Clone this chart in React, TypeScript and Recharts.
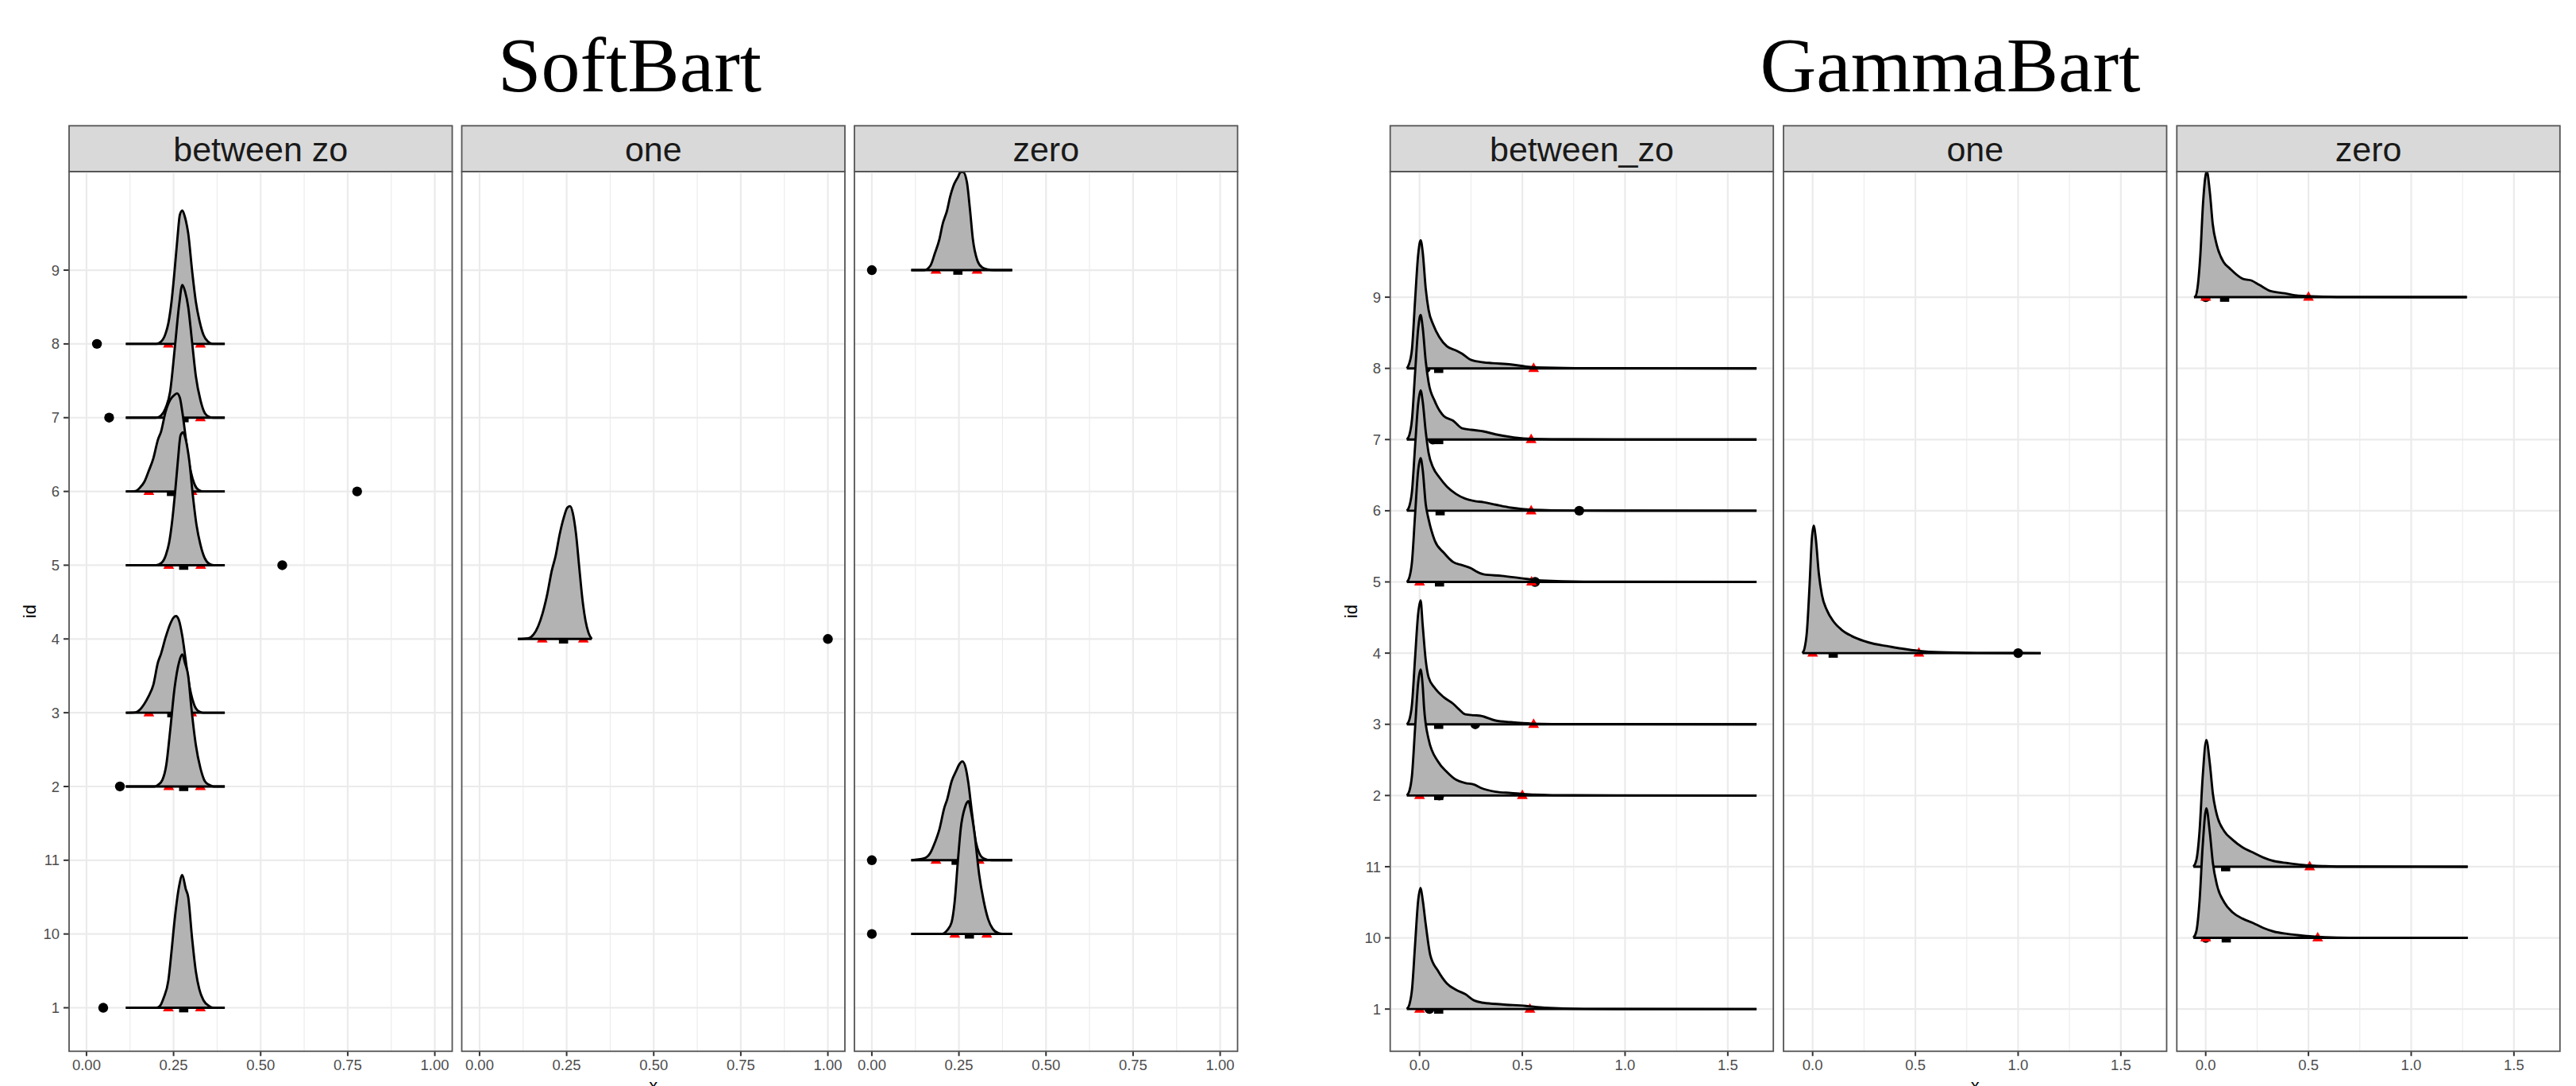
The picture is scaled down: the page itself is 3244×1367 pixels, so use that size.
import React from "react";
import { ComposedChart, Area, Scatter, XAxis, YAxis, CartesianGrid } from "recharts";

// y axis levels, bottom to top, as listed on the axis
const idLevels = ["1", "10", "11", "2", "3", "4", "5", "6", "7", "8", "9"];

const softTicks = [0, 0.25, 0.5, 0.75, 1];
const softMinor = [0.125, 0.375, 0.625, 0.875];
const gammaTicks = [0, 0.5, 1, 1.5];
const gammaMinor = [0.25, 0.75, 1.25];

const softFacets = ["between zo", "one", "zero"];
const gammaFacets = ["between_zo", "one", "zero"];

// ids in each facet, top ridge first
const betweenIds = ["8", "7", "6", "5", "3", "2", "1"];
const oneIds = ["4"];
const zeroIds = ["9", "11", "10"];

// true values (black dots)
const truthBetween = [0.03, 0.065, 0.777, 0.562, 0.271, 0.096, 0.048];
const truthOne = [1.0];
const truthZero = [0, 0, 0];

// SoftBart summaries: lower / upper (red), mean (black square)
const softLoBetween = [0.235, 0.235, 0.179, 0.236, 0.179, 0.236, 0.235];
const softMeanBetween = [0.279, 0.28, 0.244, 0.279, 0.245, 0.279, 0.279];
const softHiBetween = [0.327, 0.327, 0.303, 0.328, 0.302, 0.327, 0.327];
const softLoOne = [0.18];
const softMeanOne = [0.241];
const softHiOne = [0.298];
const softLoZero = [0.184, 0.184, 0.238];
const softMeanZero = [0.247, 0.242, 0.28];
const softHiZero = [0.302, 0.308, 0.33];

// GammaBart summaries
const gammaLoBetween = [0, 0, 0, 0, 0, 0, 0];
const gammaMeanBetween = [0.093, 0.093, 0.1, 0.097, 0.093, 0.093, 0.093];
const gammaHiBetween = [0.555, 0.543, 0.543, 0.545, 0.555, 0.5, 0.537];
const gammaLoOne = [0];
const gammaMeanOne = [0.1];
const gammaHiOne = [0.517];
const gammaLoZero = [0, 0, 0];
const gammaMeanZero = [0.092, 0.097, 0.1];
const gammaHiZero = [0.5, 0.506, 0.545];

// ridge outlines: [x, height in id units]
const soft8 = [[0.113,0],[0.2,0],[0.214,0.03],[0.227,0.14],[0.235,0.28],[0.244,0.57],[0.253,1.0],[0.261,1.43],[0.268,1.75],[0.275,1.81],[0.282,1.73],[0.288,1.61],[0.292,1.5],[0.303,1.0],[0.314,0.57],[0.324,0.32],[0.336,0.12],[0.349,0.03],[0.362,0],[0.397,0]];
const soft7 = [[0.113,0],[0.2,0],[0.214,0.03],[0.227,0.13],[0.24,0.35],[0.253,0.92],[0.266,1.53],[0.275,1.8],[0.283,1.71],[0.292,1.5],[0.303,1.03],[0.314,0.56],[0.327,0.24],[0.34,0.06],[0.353,0.01],[0.365,0],[0.397,0]];
const soft6 = [[0.113,0],[0.14,0.005],[0.153,0.05],[0.166,0.13],[0.178,0.27],[0.192,0.45],[0.205,0.7],[0.214,0.81],[0.227,1.08],[0.24,1.24],[0.253,1.31],[0.26,1.33],[0.268,1.27],[0.275,1.08],[0.284,0.76],[0.292,0.46],[0.3,0.26],[0.309,0.11],[0.322,0.02],[0.335,0],[0.397,0]];
const soft5 = [[0.113,0],[0.2,0],[0.215,0.03],[0.228,0.14],[0.237,0.3],[0.246,0.6],[0.255,1.02],[0.263,1.45],[0.27,1.76],[0.277,1.8],[0.284,1.72],[0.29,1.58],[0.295,1.42],[0.305,0.96],[0.316,0.54],[0.327,0.28],[0.339,0.1],[0.352,0.02],[0.365,0],[0.397,0]];
const soft3 = [[0.113,0],[0.14,0.005],[0.155,0.05],[0.166,0.12],[0.178,0.22],[0.192,0.38],[0.205,0.68],[0.214,0.8],[0.227,1.02],[0.24,1.2],[0.25,1.29],[0.257,1.31],[0.265,1.26],[0.275,1.04],[0.284,0.74],[0.292,0.46],[0.3,0.26],[0.309,0.11],[0.322,0.02],[0.335,0],[0.397,0]];
const soft2 = [[0.113,0],[0.195,0],[0.205,0.02],[0.218,0.09],[0.229,0.29],[0.24,0.75],[0.253,1.34],[0.266,1.69],[0.275,1.79],[0.283,1.67],[0.292,1.5],[0.301,1.07],[0.314,0.56],[0.327,0.25],[0.34,0.07],[0.353,0.02],[0.365,0],[0.397,0]];
const soft1 = [[0.113,0],[0.2,0],[0.21,0.02],[0.222,0.14],[0.235,0.37],[0.244,0.76],[0.253,1.19],[0.266,1.65],[0.275,1.8],[0.285,1.61],[0.292,1.5],[0.303,0.95],[0.314,0.49],[0.324,0.25],[0.336,0.1],[0.353,0.02],[0.365,0],[0.397,0]];
const softOne4 = [[0.11,0],[0.14,0.01],[0.155,0.06],[0.168,0.17],[0.181,0.35],[0.194,0.6],[0.207,0.92],[0.218,1.12],[0.23,1.42],[0.242,1.65],[0.252,1.78],[0.26,1.8],[0.268,1.7],[0.277,1.42],[0.286,0.98],[0.295,0.55],[0.304,0.25],[0.313,0.08],[0.322,0]];
const softZero9 = [[0.113,0],[0.15,0],[0.168,0.06],[0.181,0.23],[0.194,0.42],[0.203,0.62],[0.216,0.81],[0.225,1.0],[0.234,1.14],[0.247,1.26],[0.255,1.33],[0.262,1.33],[0.273,1.19],[0.282,0.81],[0.29,0.42],[0.303,0.13],[0.316,0.04],[0.333,0.01],[0.35,0],[0.403,0]];
const softZero11 = [[0.113,0],[0.15,0.025],[0.168,0.1],[0.181,0.24],[0.194,0.42],[0.208,0.71],[0.216,0.82],[0.229,1.07],[0.242,1.21],[0.251,1.3],[0.26,1.34],[0.269,1.26],[0.277,1.05],[0.286,0.7],[0.299,0.24],[0.308,0.1],[0.321,0.025],[0.343,0],[0.403,0]];
const softZero10 = [[0.113,0],[0.2,0],[0.216,0.05],[0.229,0.16],[0.238,0.45],[0.247,0.99],[0.255,1.42],[0.269,1.74],[0.277,1.8],[0.286,1.63],[0.295,1.35],[0.308,0.81],[0.321,0.45],[0.334,0.2],[0.347,0.07],[0.364,0.01],[0.38,0],[0.403,0]];

const gamma8 = [[-0.062,0],[-0.052,0.055],[-0.037,0.27],[-0.022,0.95],[-0.007,1.59],[0.005,1.8],[0.015,1.64],[0.03,1.12],[0.044,0.82],[0.067,0.61],[0.096,0.44],[0.133,0.31],[0.178,0.25],[0.207,0.205],[0.244,0.128],[0.296,0.09],[0.355,0.073],[0.444,0.055],[0.518,0.026],[0.607,0.01],[0.814,0.002],[1.64,0]];
const gamma7 = [[-0.062,0],[-0.05,0.06],[-0.037,0.28],[-0.022,0.93],[-0.007,1.55],[0.005,1.75],[0.015,1.58],[0.03,1.1],[0.044,0.8],[0.074,0.54],[0.118,0.33],[0.163,0.265],[0.207,0.158],[0.252,0.137],[0.311,0.115],[0.37,0.073],[0.459,0.03],[0.547,0.01],[0.75,0.003],[1.64,0]];
const gamma6 = [[-0.062,0],[-0.05,0.06],[-0.037,0.27],[-0.022,0.9],[-0.007,1.5],[0.005,1.69],[0.015,1.54],[0.03,1.11],[0.044,0.81],[0.067,0.6],[0.096,0.47],[0.133,0.34],[0.178,0.235],[0.222,0.17],[0.266,0.137],[0.311,0.12],[0.37,0.085],[0.444,0.043],[0.547,0.013],[0.75,0.003],[1.64,0]];
const gamma5 = [[-0.062,0],[-0.05,0.06],[-0.037,0.28],[-0.022,0.94],[-0.007,1.56],[0.005,1.74],[0.015,1.58],[0.03,1.09],[0.044,0.88],[0.074,0.58],[0.118,0.41],[0.163,0.28],[0.207,0.235],[0.252,0.19],[0.274,0.15],[0.311,0.107],[0.4,0.085],[0.488,0.055],[0.592,0.02],[0.8,0.003],[1.64,0]];
const gamma3 = [[-0.062,0],[-0.05,0.06],[-0.037,0.28],[-0.022,0.93],[-0.007,1.55],[0.005,1.74],[0.015,1.4],[0.03,0.9],[0.044,0.66],[0.074,0.51],[0.118,0.38],[0.163,0.29],[0.192,0.21],[0.222,0.14],[0.266,0.127],[0.296,0.12],[0.37,0.053],[0.444,0.03],[0.547,0.01],[0.75,0.003],[1.64,0]];
const gamma2 = [[-0.062,0],[-0.05,0.06],[-0.037,0.28],[-0.022,0.94],[-0.007,1.58],[0.005,1.77],[0.015,1.55],[0.022,1.23],[0.044,0.79],[0.089,0.48],[0.133,0.33],[0.178,0.22],[0.222,0.176],[0.266,0.154],[0.296,0.11],[0.37,0.053],[0.444,0.035],[0.547,0.013],[0.75,0.003],[1.64,0]];
const gamma1 = [[-0.062,0],[-0.05,0.06],[-0.037,0.27],[-0.022,0.9],[-0.007,1.52],[0.005,1.7],[0.015,1.54],[0.03,1.19],[0.052,0.76],[0.089,0.54],[0.133,0.36],[0.178,0.27],[0.222,0.21],[0.266,0.12],[0.311,0.088],[0.4,0.066],[0.518,0.044],[0.607,0.018],[0.8,0.003],[1.64,0]];
const gammaOne4 = [[-0.05,0],[-0.04,0.06],[-0.028,0.3],[-0.015,0.95],[-0.004,1.6],[0.005,1.79],[0.015,1.62],[0.03,1.12],[0.045,0.82],[0.07,0.6],[0.1,0.45],[0.14,0.33],[0.19,0.24],[0.25,0.17],[0.3,0.13],[0.36,0.1],[0.43,0.065],[0.52,0.03],[0.62,0.012],[0.8,0.003],[1.11,0]];
const gammaZero9 = [[-0.057,0],[-0.05,0.01],[-0.04,0.13],[-0.026,0.6],[-0.013,1.32],[0.005,1.77],[0.021,1.45],[0.034,1.03],[0.054,0.73],[0.088,0.49],[0.115,0.41],[0.182,0.256],[0.222,0.235],[0.262,0.17],[0.316,0.085],[0.383,0.055],[0.45,0.02],[0.571,0.008],[0.692,0.002],[1.271,0]];
const gammaZero11 = [[-0.06,0],[-0.045,0.1],[-0.03,0.5],[-0.015,1.25],[0.003,1.78],[0.02,1.45],[0.035,1.02],[0.055,0.72],[0.09,0.5],[0.13,0.38],[0.18,0.27],[0.23,0.2],[0.28,0.13],[0.33,0.08],[0.4,0.05],[0.47,0.025],[0.58,0.008],[0.7,0.002],[1.275,0]];
const gammaZero10 = [[-0.06,0],[-0.045,0.1],[-0.03,0.52],[-0.015,1.28],[0.003,1.82],[0.02,1.48],[0.035,1.05],[0.055,0.74],[0.09,0.5],[0.13,0.36],[0.18,0.27],[0.23,0.21],[0.28,0.14],[0.33,0.09],[0.4,0.055],[0.48,0.03],[0.58,0.01],[0.7,0.002],[1.275,0]];

// layout (px)
const PANEL_TOP = 216;
const PANEL_H = 1107.3;
const PANEL_W = 482.5;
const STRIP_TOP = 158.3;
const Y_W = 80;
const X_H = 44;
const softLefts = [87, 581.5, 1076];
const gammaLefts = [1750.7, 2246, 2741.3];
const softXDomain = [-0.05, 1.05];
const gammaXDomain = [-0.1418, 1.7228];
const softYDomain = [0.41, 12.336];
const gammaYDomain = [0.407, 12.764];

const yPositions = idLevels.map((_, i) => i + 1);
const posOf = (id: string) => idLevels.indexOf(id) + 1;

type PanelDef = {
  ids: string[];
  curves: number[][][];
  truth: number[];
  lo: number[];
  mean: number[];
  hi: number[];
};

const softPanels: PanelDef[] = [
  { ids: betweenIds, curves: [soft8, soft7, soft6, soft5, soft3, soft2, soft1], truth: truthBetween, lo: softLoBetween, mean: softMeanBetween, hi: softHiBetween },
  { ids: oneIds, curves: [softOne4], truth: truthOne, lo: softLoOne, mean: softMeanOne, hi: softHiOne },
  { ids: zeroIds, curves: [softZero9, softZero11, softZero10], truth: truthZero, lo: softLoZero, mean: softMeanZero, hi: softHiZero },
];
const gammaPanels: PanelDef[] = [
  { ids: betweenIds, curves: [gamma8, gamma7, gamma6, gamma5, gamma3, gamma2, gamma1], truth: truthBetween, lo: gammaLoBetween, mean: gammaMeanBetween, hi: gammaHiBetween },
  { ids: oneIds, curves: [gammaOne4], truth: truthOne, lo: gammaLoOne, mean: gammaMeanOne, hi: gammaHiOne },
  { ids: zeroIds, curves: [gammaZero9, gammaZero11, gammaZero10], truth: truthZero, lo: gammaLoZero, mean: gammaMeanZero, hi: gammaHiZero },
];

function buildRows(p: PanelDef) {
  const xs = Array.from(new Set(p.curves.flatMap((c) => c.map((q) => q[0])))).sort((a, b) => a - b);
  return xs.map((x) => {
    const row: any = { x };
    p.ids.forEach((id, i) => {
      const hit = p.curves[i].find((q) => q[0] === x);
      const base = posOf(id);
      row["r" + id] = hit ? [base, base + hit[1]] : null;
    });
    return row;
  });
}

const Marker = (props: any) => {
  const { cx, cy, payload } = props;
  if (cx == null || cy == null) return <g />;
  if (payload.kind === "truth") return <circle cx={cx} cy={cy} r={6.2} fill="#000" />;
  if (payload.kind === "mean") return <rect x={cx - 5.8} y={cy - 5.8} width={11.6} height={11.6} fill="#000" />;
  return <path d={`M${cx},${cy - 7.5} L${cx + 6.8},${cy + 4.5} L${cx - 6.8},${cy + 4.5} Z`} fill="#FF0000" />;
};

const tickStyle = { fill: "#4D4D4D", fontSize: 18.5, fontFamily: "Liberation Sans, Arial, sans-serif" };

function RidgePanel({ p, left, showY, xTicks, xMinor, xDomain, yDomain, digits }: any) {
  const rows = buildRows(p);
  const w = PANEL_W + (showY ? Y_W : 0);
  return (
    <div style={{ position: "absolute", left: left - (showY ? Y_W : 0), top: PANEL_TOP }}>
      <ComposedChart width={w} height={PANEL_H + X_H} data={rows} margin={{ top: 0, right: 0, bottom: 0, left: 0 }}>
        <CartesianGrid horizontal={false} verticalValues={xMinor} stroke="#EBEBEB" strokeWidth={1.1} />
        <CartesianGrid verticalValues={xTicks} horizontalValues={yPositions} stroke="#EBEBEB" strokeWidth={2.2} />
        <XAxis
          type="number"
          dataKey="x"
          domain={xDomain}
          allowDataOverflow
          ticks={xTicks}
          interval={0}
          tickFormatter={(v: number) => v.toFixed(digits)}
          height={X_H}
          axisLine={false}
          tickLine={{ stroke: "#333333", strokeWidth: 2 }}
          tickSize={6}
          tickMargin={5}
          tick={tickStyle}
        />
        <YAxis
          type="number"
          dataKey="y"
          domain={yDomain}
          allowDataOverflow
          ticks={yPositions}
          interval={0}
          tickFormatter={(v: number) => idLevels[Math.round(v) - 1]}
          width={Y_W}
          hide={!showY}
          axisLine={false}
          tickLine={{ stroke: "#333333", strokeWidth: 2 }}
          tickSize={7}
          tickMargin={5}
          tick={tickStyle}
        />
        {p.ids.flatMap((id: string, k: number) => {
          const y = posOf(id);
          const marks = [
            { x: p.truth[k], y, kind: "truth" },
            { x: p.mean[k], y, kind: "mean" },
            { x: p.lo[k], y, kind: "q" },
            { x: p.hi[k], y, kind: "q" },
          ];
          return [
            <Scatter key={"m" + id} data={marks} shape={Marker} isAnimationActive={false} zIndex={200 + 2 * k} />,
            <Area
              key={"a" + id}
              dataKey={"r" + id}
              type="monotone"
              connectNulls
              stroke="#000"
              strokeWidth={2.9}
              fill="#B3B3B3"
              fillOpacity={1}
              dot={false}
              activeDot={false}
              isAnimationActive={false}
              zIndex={201 + 2 * k}
            />,
          ];
        })}
      </ComposedChart>
    </div>
  );
}

function Group({ facets, panels, lefts, xTicks, xMinor, xDomain, yDomain, digits }: any) {
  return (
    <>
      {panels.map((p: PanelDef, i: number) => (
        <RidgePanel
          key={facets[i]}
          p={p}
          left={lefts[i]}
          showY={i === 0}
          xTicks={xTicks}
          xMinor={xMinor}
          xDomain={xDomain}
          yDomain={yDomain}
          digits={digits}
        />
      ))}
    </>
  );
}

export default function App() {
  const groups = [
    { title: "SoftBart", titleX: 793, facets: softFacets, panels: softPanels, lefts: softLefts, xTicks: softTicks, xMinor: softMinor, xDomain: softXDomain, yDomain: softYDomain, digits: 2 },
    { title: "GammaBart", titleX: 2456, facets: gammaFacets, panels: gammaPanels, lefts: gammaLefts, xTicks: gammaTicks, xMinor: gammaMinor, xDomain: gammaXDomain, yDomain: gammaYDomain, digits: 1 },
  ];
  return (
    <div style={{ position: "absolute", left: 0, top: 0, width: 3244, height: 1367, overflow: "hidden", background: "#fff" }}>
      <svg width={3244} height={1367} style={{ position: "absolute", left: 0, top: 0 }}>
        {groups.map((g) => {
          const mid = (g.lefts[0] + g.lefts[2] + PANEL_W) / 2;
          return (
            <g key={g.title}>
              <text x={g.titleX} y={115} textAnchor="middle" fontFamily="Liberation Serif, serif" fontSize={98} fill="#000">
                {g.title}
              </text>
              {g.facets.map((f: string, i: number) => (
                <g key={f}>
                  <rect x={g.lefts[i]} y={STRIP_TOP} width={PANEL_W} height={PANEL_TOP - STRIP_TOP} fill="#D9D9D9" stroke="#555" strokeWidth={1.8} />
                  <text x={g.lefts[i] + PANEL_W / 2} y={203} textAnchor="middle" fontFamily="Liberation Sans, Arial, sans-serif" fontSize={43} fill="#1A1A1A">
                    {f}
                  </text>
                </g>
              ))}
              <text transform={`translate(${g.lefts[0] - 42}, ${PANEL_TOP + PANEL_H / 2}) rotate(-90)`} textAnchor="middle" fontFamily="Liberation Sans, Arial, sans-serif" fontSize={22} fill="#000">
                id
              </text>
              <text x={mid} y={1374} textAnchor="middle" fontFamily="Liberation Sans, Arial, sans-serif" fontSize={22} fill="#000">
                x
              </text>
            </g>
          );
        })}
      </svg>
      {groups.map((g) => (
        <Group key={g.title} {...g} />
      ))}
      <svg width={3244} height={1367} style={{ position: "absolute", left: 0, top: 0, pointerEvents: "none" }}>
        {groups.map((g) =>
          g.lefts.map((l: number) => (
            <rect key={g.title + l} x={l} y={PANEL_TOP} width={PANEL_W} height={PANEL_H} fill="none" stroke="#555" strokeWidth={1.8} />
          ))
        )}
      </svg>
    </div>
  );
}
